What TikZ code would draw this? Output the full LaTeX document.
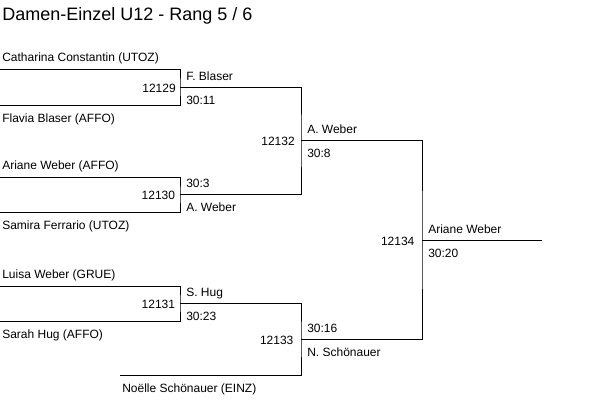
\documentclass[tikz,border=0pt]{standalone}
\usepackage{fontspec}
\setmainfont{Liberation Sans}
\usetikzlibrary{calc,positioning}

\begin{document}
\begin{tikzpicture}[x=0.75pt,y=-0.75pt,
		bracket/.style={draw,line width=0.75pt},
		entrant/.style={anchor=base west,inner sep=0pt,font=\fontsize{9}{11}\selectfont},
		winner/.style={anchor=base west,inner sep=0pt,font=\fontsize{9}{11}\selectfont},
		matchno/.style={anchor=east,inner sep=0pt,font=\fontsize{9}{11}\selectfont}
		]
		\useasboundingbox (0,0) rectangle (602,404);
		\node[anchor=base west,inner sep=0pt,font=\fontsize{13.5}{16}\selectfont](title) at (2,20){Damen-Einzel U12 - Rang 5 / 6};

		% line ends and junctions
		\coordinate (p1) at (0,69);
		\coordinate (p2) at (0,105);
		\coordinate (p3) at (0,177);
		\coordinate (p4) at (0,212);
		\coordinate (p5) at (0,286);
		\coordinate (p6) at (0,321);
		\coordinate (p7) at (120,375);
		\coordinate (m1) at (180,87);
		\coordinate (m2) at (180,194.5);
		\coordinate (m3) at (180,303.5);
		\coordinate (m4) at (301,140.75);
		\coordinate (m5) at (301,339.25);
		\coordinate (m6) at (422,240);
		\coordinate (out) at (542,240);

		\draw[bracket] (p1) -| (m1) |- (p2);
		\draw[bracket] (p3) -| (m2) |- (p4);
		\draw[bracket] (p5) -| (m3) |- (p6);
		\draw[bracket] (m1) -| (m4) |- (m2);
		\draw[bracket] (m3) -| (m5) |- (p7);
		\draw[bracket] (m4) -| (m6) |- (m5);
		\draw[bracket] (m6) -- (out);

		% players
		\node[entrant](e1) at ($(p1)+(2,-8)$){Catharina Constantin (UTOZ)};
		\node[entrant](e2) at ($(p2)+(2,17)$){Flavia Blaser (AFFO)};
		\node[entrant](e3) at ($(p3)+(2,-8)$){Ariane Weber (AFFO)};
		\node[entrant](e4) at ($(p4)+(2,17)$){Samira Ferrario (UTOZ)};
		\node[entrant](e5) at ($(p5)+(2,-8)$){Luisa Weber (GRUE)};
		\node[entrant](e6) at ($(p6)+(2,17)$){Sarah Hug (AFFO)};
		\node[entrant](e7) at ($(p7)+(2,17)$){Noëlle Schönauer (EINZ)};

		% match numbers
		\node[matchno, left=3pt of m1, yshift=-0.75pt](g12129){12129};
		\node[matchno, left=3.5pt of m2, yshift=-0.75pt](g12130){12130};
		\node[matchno, left=3.5pt of m3, yshift=-0.75pt](g12131){12131};
		\node[matchno, left=4.5pt of m4, yshift=-0.75pt](g12132){12132};
		\node[matchno, left=5.5pt of m5, yshift=-0.75pt](g12133){12133};
		\node[matchno, left=5.5pt of m6, yshift=-0.75pt](g12134){12134};

		% winners and scores
		\node[winner](w1) at ($(m1)+(6,-7)$){F. Blaser};
		\node[winner](s1) at ($(m1)+(6,17)$){30:11};
		\node[winner](s2) at ($(m2)+(6,-7)$){30:3};
		\node[winner](w2) at ($(m2)+(6,17)$){A. Weber};
		\node[winner](w3) at ($(m3)+(6,-7)$){S. Hug};
		\node[winner](s3) at ($(m3)+(6,17)$){30:23};
		\node[winner](w4) at ($(m4)+(6,-7)$){A. Weber};
		\node[winner](s4) at ($(m4)+(6,17)$){30:8};
		\node[winner](s5) at ($(m5)+(6,-7)$){30:16};
		\node[winner](w5) at ($(m5)+(6,17)$){N. Schönauer};
		\node[winner](w6) at ($(m6)+(6,-7)$){Ariane Weber};
		\node[winner](s6) at ($(m6)+(6,17)$){30:20};
	\end{tikzpicture}
\end{document}
